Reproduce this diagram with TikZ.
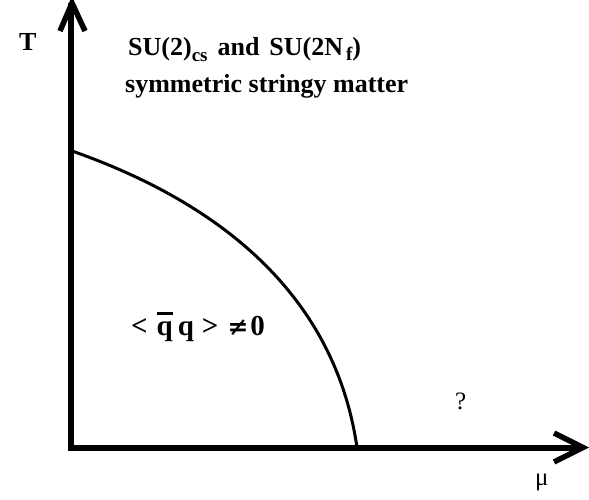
\documentclass[tikz,border=0pt]{standalone}
\usepackage{fontspec}
\setmainfont{Liberation Serif}
\newfontfamily\symfont{DejaVu Serif}
\begin{document}
\begin{tikzpicture}[x=1pt,y=-1pt,
  axisline/.style={line width=6pt,line join=miter},
  headline/.style={line width=5.5pt,line join=miter},
  phaseline/.style={line width=3pt},
  lbl/.style={anchor=base west,inner sep=0pt,font=\fontsize{26}{30}\selectfont\bfseries},
  biglbl/.style={anchor=base west,inner sep=0pt,font=\fontsize{29}{32}\selectfont\bfseries},
  plainlbl/.style={anchor=base west,inner sep=0pt,font=\fontsize{25}{30}\selectfont}]
\useasboundingbox (0,0) rectangle (589,499);
% axes
\coordinate (corner) at (71,447.5);
\coordinate (ytip) at (72,3);
\coordinate (xtip) at (583,447.5);
\coordinate (yl) at (60,31);
\coordinate (yr) at (85,31);
\coordinate (xu) at (554,433);
\coordinate (xd) at (554,462);
\draw[axisline] (71,3) -- (corner) -- (xtip);
\draw[headline] (yl) -- (ytip) -- (yr);
\draw[headline] (xu) -- (xtip) -- (xd);
% phase boundary
\coordinate (tc) at (72,151);
\coordinate (muc) at (357,447.5);
\draw[phaseline] (tc) .. controls (240,210) and (337,310) .. (muc);
% labels
\node[lbl] (T) at (19,50) {T};
\node[lbl] (l1) at (128,55) {SU(2)\raisebox{-6pt}{\fontsize{19}{20}\selectfont cs}\hspace{10pt}and\hspace{10pt}SU(2N\hspace{3pt}\raisebox{-5pt}{\fontsize{19}{20}\selectfont f})};
\node[lbl] (l2) at (125,92) {symmetric stringy matter};
\node[biglbl] (cond) at (131,335) {<\hspace{9pt}\makebox[0pt][l]{\rule[20pt]{16pt}{3pt}}q\hspace{5pt}q\hspace{8pt}>\hspace{9pt}{\symfont\fontsize{25}{30}\selectfont ≠}\hspace{2pt}0};
\node[plainlbl] (q) at (455,409) {?};
\node[plainlbl] (mu) at (535,485) {μ};
\end{tikzpicture}
\end{document}
